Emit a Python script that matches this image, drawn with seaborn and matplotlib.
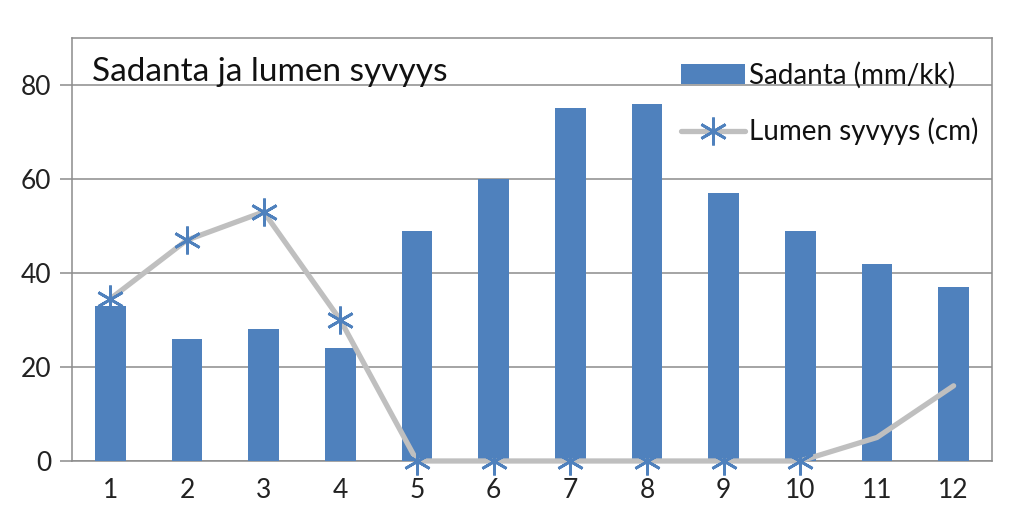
import numpy as np
import matplotlib
matplotlib.use('Agg')
import matplotlib.pyplot as plt
import seaborn as sns

# Monthly data
months = ['1', '2', '3', '4', '5', '6', '7', '8', '9', '10', '11', '12']
sadanta = [33, 26, 28, 24, 49, 60, 75, 76, 57, 49, 42, 37]
lumi = [34.5, 47, 53, 30, 0, 0, 0, 0, 0, 0, 5, 16]

sns.set_theme(style='white')
plt.rcParams['font.family'] = ['Lato', 'DejaVu Sans']

bar_color = '#4F81BD'
line_color = '#BFBFBF'
grid_color = '#8C8C8C'

fig = plt.figure(figsize=(10.24, 5.26), dpi=100)
ax = fig.add_axes([0.0703, 0.1236, 0.8984, 0.8042])

sns.barplot(x=months, y=sadanta, color=bar_color, width=0.4, saturation=1,
            linewidth=0, edgecolor=bar_color,
            label='Sadanta (mm/kk)', ax=ax, zorder=3)
sns.lineplot(x=np.arange(len(months)), y=lumi, color=line_color, linewidth=3.8,
             marker=(6, 2, 0), markersize=20, markeredgecolor=bar_color,
             markerfacecolor=bar_color, markeredgewidth=2,
             markevery=list(range(10)), label='Lumen syvyys (cm)', ax=ax,
             zorder=4, clip_on=False)

ax.set_ylim(0, 90)
ax.set_xlim(-0.5, 11.5)
ax.set_yticks([0, 20, 40, 60, 80])
ax.yaxis.grid(True, color=grid_color, linewidth=1.1, zorder=0)
ax.set_axisbelow(True)
ax.set_xlabel('')
ax.set_ylabel('')

# tick marks between the categories
ax.set_xticks(np.arange(-0.5, 12, 1), minor=True)
ax.tick_params(axis='x', which='major', length=0, labelsize=19, pad=12, colors='#222222')
ax.tick_params(axis='x', which='minor', length=9, width=1.1, color=grid_color, direction='out')
ax.tick_params(axis='y', which='major', length=9, width=1.1, color=grid_color,
               direction='out', labelsize=19, pad=6, labelcolor='#222222', left=True)

for s in ax.spines.values():
    s.set_color(grid_color)
    s.set_linewidth(1.1)

ax.text(0.022, 0.955, 'Sadanta ja lumen syvyys', transform=ax.transAxes,
        fontsize=24, va='top', ha='left', color='#111111')

handles, labels = ax.get_legend_handles_labels()
order = [labels.index('Sadanta (mm/kk)'), labels.index('Lumen syvyys (cm)')]
leg = ax.legend([handles[i] for i in order], [labels[i] for i in order],
                loc='upper left', bbox_to_anchor=(0.65, 0.97), frameon=False,
                fontsize=20, handlelength=2.3, handletextpad=0.15,
                labelspacing=1.05, borderaxespad=0)
for t in leg.get_texts():
    t.set_color('#111111')

fig.savefig('out.png', dpi=100, facecolor='white')
